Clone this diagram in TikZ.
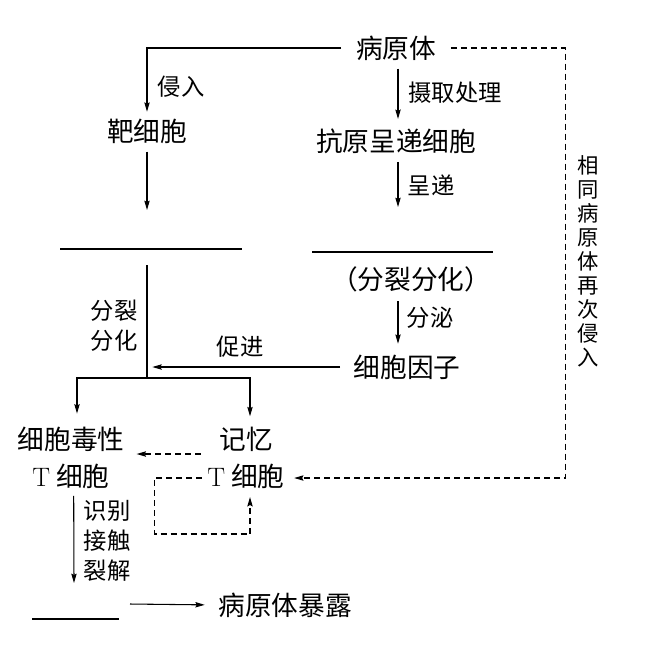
\documentclass[tikz,border=0pt]{standalone}
\usepackage{fontspec}
\newfontfamily\cjk{Noto Sans CJK SC}
\usetikzlibrary{arrows.meta,positioning,calc}
\tikzset{cell/.style={inner sep=0pt,align=center,font=\cjk\fontsize{20}{27.75}\selectfont},
  steplabel/.style={inner sep=0pt,align=center,font=\cjk\fontsize{17.5}{22.5}\selectfont},
  flow/.style={-{Stealth[length=7pt,width=4pt,inset=1pt]},line width=0.8pt},
  dflow/.style={flow,dash pattern=on 4.5pt off 3pt},
  blank/.style={line width=0.8pt}}
\begin{document}
\begin{tikzpicture}[x=0.75pt,y=-0.75pt]
\useasboundingbox (0,0) rectangle (655,644);
% cells
\node[cell] (path) at (396,48) {病原体};
\node[cell] (target) at (147,131) {靶细胞};
\node[cell] (apc) at (396,141) {抗原呈递细胞};
\node[cell] (divide) at (411,279) {（分裂分化）};
\node[cell] (cytokine) at (407,367) {细胞因子};
\node[cell] (ctl) at (71,458) {细胞毒性\\\textrm{T} 细胞};
\node[cell] (mem) at (246,458) {记忆\\\textrm{T} 细胞};
\node[cell] (expose) at (285,605) {病原体暴露};
% labels on the arrows
\node[steplabel] (invade) at (181,87) {侵入};
\node[steplabel] (takeup) at (455,93) {摄取处理};
\node[steplabel] (present) at (431,185) {呈递};
\node[steplabel] (secrete) at (430,318) {分泌};
\node[steplabel] (grow) at (114,326) {分裂\\分化};
\node[steplabel] (promote) at (240,347) {促进};
\node[steplabel] (kill) at (107,541) {识别\\接触\\裂解};
\node[steplabel,font=\cjk\fontsize{16}{18}\selectfont] (again) at (588,261) {相\\同\\病\\原\\体\\再\\次\\侵\\入};
% blanks to fill in
\draw[blank] (60,249) -- (242,249);
\draw[blank] (312,252) -- (493,252);
\draw[blank] (32,619) -- (119,619);
\coordinate (tEnd) at (147,210);
\coordinate (bTop) at (147,265);
\coordinate (split) at (147,378);
\coordinate (pEnd) at (398,207);
\coordinate (kEnd) at (74,583);
\coordinate (eStart) at (130,604);
% arrows
\draw[flow,shorten <=11pt,shorten >=5pt] (path.west) -| (target.north);
\draw[flow,shorten <=6pt] (target.south) -- (tEnd);
\draw[blank] (bTop) -- (split);
\draw[flow,shorten >=10pt] (split) -| ([xshift=4.5pt]ctl.north);
\draw[flow,shorten >=8pt] (split) -| ([xshift=3pt]mem.north);
\draw[flow,shorten <=10pt,shorten >=4pt] (cytokine.west) -- (split |- cytokine.west);
\draw[flow,shorten <=6pt,shorten >=7pt] ([xshift=1.5pt]path.south) -- ([xshift=1.5pt]apc.north);
\draw[flow,shorten <=6pt] ([xshift=1.5pt]apc.south) -- (pEnd);
\draw[flow,shorten <=7pt,shorten >=8pt] (divide.south -| pEnd) -- (cytokine.north -| pEnd);
\draw[flow,shorten <=5pt] ([xshift=2pt]ctl.south) -- (kEnd);
\draw[flow,shorten >=10pt] (eStart) -- (expose.west);
\draw[dflow,shorten <=5pt,shorten >=9pt] ([yshift=3pt]mem.west) -- ([yshift=3pt]ctl.east);
\draw[dflow,shorten <=4pt,shorten >=6pt] ([yshift=-15pt]mem.west) -- ++(-53,0) -- ++(0,56) -| ([xshift=3pt]mem.south);
\draw[dflow,shorten <=11pt,shorten >=7pt] (path.east) -- ++(129,0) |- ([yshift=-15pt]mem.east);
\end{tikzpicture}
\end{document}
